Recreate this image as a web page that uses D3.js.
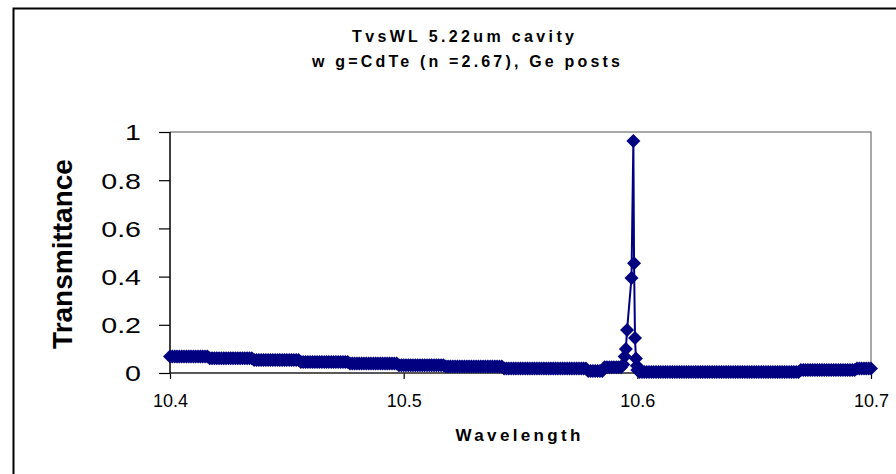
<!DOCTYPE html>
<html>
<head>
<meta charset="utf-8">
<script src="https://cdn.jsdelivr.net/npm/d3@7"></script>
<style>
	body { margin: 0; background: #fff; }
	text { font-family: Arial, "Liberation Sans", sans-serif; }
</style>
</head>
<body>
<svg width="896" height="474"></svg>
<script>
// Data: baseline before the peak, the resonance, baseline after
var wavelengthLow = [
	10.400, 10.401, 10.402, 10.403, 10.404, 10.405, 10.406, 10.407, 10.408, 10.409,
	10.410, 10.411, 10.412, 10.413, 10.414, 10.415, 10.416, 10.417, 10.418, 10.419,
	10.420, 10.421, 10.422, 10.423, 10.424, 10.425, 10.426, 10.427, 10.428, 10.429,
	10.430, 10.431, 10.432, 10.433, 10.434, 10.435, 10.436, 10.437, 10.438, 10.439,
	10.440, 10.441, 10.442, 10.443, 10.444, 10.445, 10.446, 10.447, 10.448, 10.449,
	10.450, 10.451, 10.452, 10.453, 10.454, 10.455, 10.456, 10.457, 10.458, 10.459,
	10.460, 10.461, 10.462, 10.463, 10.464, 10.465, 10.466, 10.467, 10.468, 10.469,
	10.470, 10.471, 10.472, 10.473, 10.474, 10.475, 10.476, 10.477, 10.478, 10.479,
	10.480, 10.481, 10.482, 10.483, 10.484, 10.485, 10.486, 10.487, 10.488, 10.489,
	10.490, 10.491, 10.492, 10.493, 10.494, 10.495, 10.496, 10.497, 10.498, 10.499,
	10.500, 10.501, 10.502, 10.503, 10.504, 10.505, 10.506, 10.507, 10.508, 10.509,
	10.510, 10.511, 10.512, 10.513, 10.514, 10.515, 10.516, 10.517, 10.518, 10.519,
	10.520, 10.521, 10.522, 10.523, 10.524, 10.525, 10.526, 10.527, 10.528, 10.529,
	10.530, 10.531, 10.532, 10.533, 10.534, 10.535, 10.536, 10.537, 10.538, 10.539,
	10.540, 10.541, 10.542, 10.543, 10.544, 10.545, 10.546, 10.547, 10.548, 10.549,
	10.550, 10.551, 10.552, 10.553, 10.554, 10.555, 10.556, 10.557, 10.558, 10.559,
	10.560, 10.561, 10.562, 10.563, 10.564, 10.565, 10.566, 10.567, 10.568, 10.569,
	10.570, 10.571, 10.572, 10.573, 10.574, 10.575, 10.576, 10.577, 10.578, 10.579,
	10.580, 10.581, 10.582, 10.583, 10.584, 10.585, 10.586, 10.587, 10.588, 10.589,
	10.590, 10.591, 10.592, 10.593
];
var transLow = [
	0.068, 0.068, 0.068, 0.068, 0.068, 0.068, 0.068, 0.068, 0.068, 0.068,
	0.068, 0.068, 0.068, 0.068, 0.068, 0.068, 0.068, 0.061, 0.061, 0.061,
	0.061, 0.061, 0.061, 0.061, 0.061, 0.061, 0.061, 0.061, 0.061, 0.061,
	0.061, 0.061, 0.061, 0.061, 0.061, 0.061, 0.054, 0.054, 0.054, 0.054,
	0.054, 0.054, 0.054, 0.054, 0.054, 0.054, 0.054, 0.054, 0.054, 0.054,
	0.054, 0.054, 0.054, 0.054, 0.054, 0.054, 0.046, 0.046, 0.046, 0.046,
	0.046, 0.046, 0.046, 0.046, 0.046, 0.046, 0.046, 0.046, 0.046, 0.046,
	0.046, 0.046, 0.046, 0.046, 0.046, 0.046, 0.046, 0.039, 0.039, 0.039,
	0.039, 0.039, 0.039, 0.039, 0.039, 0.039, 0.039, 0.039, 0.039, 0.039,
	0.039, 0.039, 0.039, 0.039, 0.039, 0.039, 0.039, 0.039, 0.032, 0.032,
	0.032, 0.032, 0.032, 0.032, 0.032, 0.032, 0.032, 0.032, 0.032, 0.032,
	0.032, 0.032, 0.032, 0.032, 0.032, 0.032, 0.032, 0.032, 0.027, 0.027,
	0.027, 0.027, 0.027, 0.027, 0.027, 0.027, 0.027, 0.027, 0.027, 0.027,
	0.027, 0.027, 0.027, 0.027, 0.027, 0.027, 0.027, 0.027, 0.027, 0.027,
	0.027, 0.027, 0.027, 0.019, 0.019, 0.019, 0.019, 0.019, 0.019, 0.019,
	0.019, 0.019, 0.019, 0.019, 0.019, 0.019, 0.019, 0.019, 0.019, 0.019,
	0.019, 0.019, 0.019, 0.019, 0.019, 0.019, 0.019, 0.019, 0.019, 0.019,
	0.019, 0.019, 0.019, 0.019, 0.019, 0.019, 0.019, 0.019, 0.019, 0.008,
	0.008, 0.008, 0.008, 0.008, 0.008, 0.008, 0.024, 0.024, 0.024, 0.024,
	0.024, 0.024, 0.024, 0.024
];
var wavelengthPeak = [10.5940, 10.5946, 10.5951, 10.5956, 10.5975, 10.5983, 10.5986, 10.5990, 10.5994, 10.5998, 10.6000];
var transPeak = [0.035, 0.068, 0.100, 0.178, 0.394, 0.963, 0.455, 0.145, 0.060, 0.030, 0.012];
var wavelengthHigh = [
	10.601, 10.602, 10.603, 10.604, 10.605, 10.606, 10.607, 10.608, 10.609, 10.610,
	10.611, 10.612, 10.613, 10.614, 10.615, 10.616, 10.617, 10.618, 10.619, 10.620,
	10.621, 10.622, 10.623, 10.624, 10.625, 10.626, 10.627, 10.628, 10.629, 10.630,
	10.631, 10.632, 10.633, 10.634, 10.635, 10.636, 10.637, 10.638, 10.639, 10.640,
	10.641, 10.642, 10.643, 10.644, 10.645, 10.646, 10.647, 10.648, 10.649, 10.650,
	10.651, 10.652, 10.653, 10.654, 10.655, 10.656, 10.657, 10.658, 10.659, 10.660,
	10.661, 10.662, 10.663, 10.664, 10.665, 10.666, 10.667, 10.668, 10.669, 10.670,
	10.671, 10.672, 10.673, 10.674, 10.675, 10.676, 10.677, 10.678, 10.679, 10.680,
	10.681, 10.682, 10.683, 10.684, 10.685, 10.686, 10.687, 10.688, 10.689, 10.690,
	10.691, 10.692, 10.693, 10.694, 10.695, 10.696, 10.697, 10.698, 10.699, 10.700
];
var transHigh = [
	0.004, 0.004, 0.004, 0.004, 0.004, 0.004, 0.004, 0.004, 0.004, 0.004,
	0.004, 0.004, 0.004, 0.004, 0.004, 0.004, 0.004, 0.004, 0.004, 0.004,
	0.004, 0.004, 0.004, 0.004, 0.004, 0.004, 0.004, 0.004, 0.004, 0.004,
	0.004, 0.004, 0.004, 0.004, 0.004, 0.004, 0.004, 0.004, 0.004, 0.004,
	0.004, 0.004, 0.004, 0.004, 0.004, 0.004, 0.004, 0.004, 0.004, 0.004,
	0.004, 0.004, 0.004, 0.004, 0.004, 0.004, 0.004, 0.004, 0.004, 0.004,
	0.004, 0.004, 0.004, 0.004, 0.004, 0.004, 0.004, 0.004, 0.004, 0.012,
	0.012, 0.012, 0.012, 0.012, 0.012, 0.012, 0.012, 0.012, 0.012, 0.012,
	0.012, 0.012, 0.012, 0.012, 0.012, 0.012, 0.012, 0.012, 0.012, 0.012,
	0.012, 0.012, 0.012, 0.019, 0.019, 0.019, 0.019, 0.019, 0.019, 0.019
];

var xTicks = [10.4, 10.5, 10.6, 10.7];
var yTicks = [0, 0.2, 0.4, 0.6, 0.8, 1];
var titleLines = ["TvsWL 5.22um  cavity", "w g=CdTe (n =2.67), Ge posts"];

var data = wavelengthLow.map(function (w, i) { return { x: w, y: transLow[i] }; })
	.concat(wavelengthPeak.map(function (w, i) { return { x: w, y: transPeak[i] }; }))
	.concat(wavelengthHigh.map(function (w, i) { return { x: w, y: transHigh[i] }; }));

var svg = d3.select("svg"),
	width = +svg.attr("width"),
	height = +svg.attr("height");

var plot = { left: 170, right: 871, top: 132, bottom: 373 };
var navy = "#000080";

// outer chart frame (runs off the right / bottom edge)
svg.append("rect")
	.attr("x", 13.5).attr("y", 8.5)
	.attr("width", width).attr("height", height)
	.attr("fill", "#fff")
	.attr("stroke", "#000")
	.attr("stroke-width", 2);

var x = d3.scaleLinear().domain([10.4, 10.7]).range([plot.left, plot.right]);
var y = d3.scaleLinear().domain([0, 1]).range([plot.bottom, plot.top]);

// grey top and right border of the plot area
svg.append("path")
	.attr("d", "M" + plot.left + "," + plot.top + "H" + plot.right + "V" + plot.bottom)
	.attr("fill", "none")
	.attr("stroke", "#8c8c8c")
	.attr("stroke-width", 1.5);

// y axis
var yAxis = svg.append("g")
	.attr("transform", "translate(" + plot.left + ",0)")
	.call(d3.axisLeft(y).tickValues(yTicks).tickSize(11).tickFormat(function (d) { return String(d); }));
yAxis.select(".domain").remove();
yAxis.selectAll("line").attr("stroke", "#000").attr("stroke-width", 1.2);
yAxis.selectAll("text")
	.attr("font-size", 22)
	.attr("fill", "#000")
	.attr("x", -29 / 1.3)
	.attr("dy", "0.36em")
	.attr("transform", "scale(1.3,1)");

// x axis
var xAxis = svg.append("g")
	.attr("transform", "translate(0," + plot.bottom + ")")
	.call(d3.axisBottom(x).tickValues(xTicks).tickSize(6).tickFormat(function (d) { return String(d); }));
xAxis.select(".domain").remove();
xAxis.selectAll("line").attr("stroke", "#000").attr("stroke-width", 1.2);
xAxis.selectAll("text")
	.attr("font-size", 18)
	.attr("fill", "#000")
	.attr("y", 34)
	.attr("dy", 0);

// axis lines
svg.append("line")
	.attr("x1", plot.left).attr("x2", plot.left)
	.attr("y1", plot.top).attr("y2", plot.bottom)
	.attr("stroke", "#000").attr("stroke-width", 1.5);
svg.append("line")
	.attr("x1", plot.left).attr("x2", plot.right)
	.attr("y1", plot.bottom).attr("y2", plot.bottom)
	.attr("stroke", "#222").attr("stroke-width", 1.5);

// the series: line plus diamond markers
var line = d3.line()
	.x(function (d) { return x(d.x); })
	.y(function (d) { return y(d.y); });

svg.append("path")
	.datum(data)
	.attr("d", line)
	.attr("fill", "none")
	.attr("stroke", navy)
	.attr("stroke-width", 2);

svg.append("g")
	.selectAll("path")
	.data(data)
	.enter()
	.append("path")
	.attr("d", "M0,-7L7,0L0,7L-7,0Z")
	.attr("transform", function (d) { return "translate(" + x(d.x) + "," + y(d.y) + ")"; })
	.attr("fill", navy);

// titles
svg.append("text")
	.attr("x", 463).attr("y", 41.5)
	.attr("text-anchor", "middle")
	.attr("font-size", 16).attr("font-weight", "bold")
	.attr("textLength", 222).attr("lengthAdjust", "spacing")
	.text(titleLines[0]);
svg.append("text")
	.attr("x", 466).attr("y", 67)
	.attr("text-anchor", "middle")
	.attr("font-size", 16).attr("font-weight", "bold")
	.attr("textLength", 308).attr("lengthAdjust", "spacing")
	.text(titleLines[1]);

// axis titles
svg.append("text")
	.attr("x", 518).attr("y", 441)
	.attr("text-anchor", "middle")
	.attr("font-size", 17).attr("font-weight", "bold")
	.attr("textLength", 125).attr("lengthAdjust", "spacing")
	.text("Wavelength");

svg.append("text")
	.attr("transform", "translate(72,254) rotate(-90)")
	.attr("text-anchor", "middle")
	.attr("font-size", 28).attr("font-weight", "bold")
	.text("Transmittance");
</script>
</body>
</html>
